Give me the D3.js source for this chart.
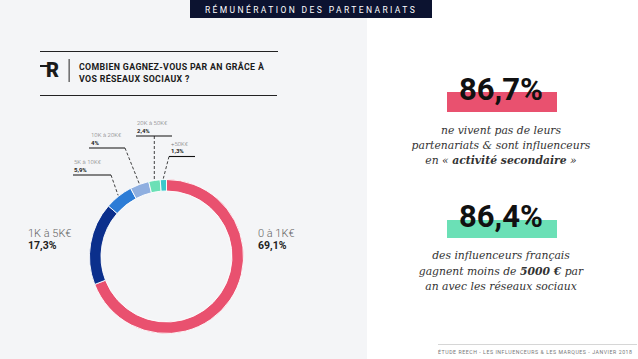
<!DOCTYPE html>
<html><head><meta charset="utf-8">
<script src="https://cdn.jsdelivr.net/npm/d3@7/dist/d3.min.js"></script>
<style>html,body{margin:0;padding:0;background:#fff;}svg{display:block;}
.ser{font-family:"DejaVu Serif", "Liberation Serif", serif;font-style:italic;}</style>
</head><body>
<svg id="c" width="638" height="359"></svg>
<script>
// ---- data ----
const categories = ["0 à 1K€", "1K à 5K€", "5K à 10K€", "10K à 20K€", "20K à 50K€", "+50K€"];
const values = [69.1, 17.3, 5.9, 4, 2.4, 1.3];
const colors = ["#e9516f", "#0b2f8c", "#2c7cd6", "#8fafe0", "#6be0b6", "#3cc8cc"];
const stat1 = 86.7;
const stat2 = 86.4;

const fmt = v => String(v).replace(".", ",") + "%";
const svg = d3.select("#c");

// background panels
svg.append("rect").attr("x", 0).attr("y", 0).attr("width", 367).attr("height", 359).attr("fill", "#f4f5f7");

// title bar
svg.append("rect").attr("x", 190).attr("y", 0).attr("width", 242).attr("height", 18).attr("fill", "#0c1330");
svg.append("text").attr("x", 311).attr("y", 12.5).attr("text-anchor", "middle")
  .attr("font-family", "Roboto").attr("font-size", 8.5).attr("letter-spacing", 2.4)
  .attr("fill", "#fff").text("RÉMUNÉRATION DES PARTENARIATS");

// header block
const hdr = svg.append("g");
hdr.append("line").attr("x1", 40).attr("x2", 278).attr("y1", 51.5).attr("y2", 51.5).attr("stroke", "#222").attr("stroke-width", 1);
hdr.append("line").attr("x1", 40).attr("x2", 277).attr("y1", 95.5).attr("y2", 95.5).attr("stroke", "#222").attr("stroke-width", 1);
hdr.append("text").attr("x", 46).attr("y", 77).attr("font-family", "Roboto").attr("font-weight", 900)
  .attr("font-size", 20).attr("fill", "#1a1a1a").text("R");
hdr.append("rect").attr("x", 40).attr("y", 65).attr("width", 8).attr("height", 2).attr("fill", "#1a1a1a");
hdr.append("rect").attr("x", 68.5).attr("y", 59).attr("width", 1.3).attr("height", 23).attr("fill", "#555");
hdr.append("text").attr("x", 79).attr("y", 69.5).attr("font-family", "Roboto").attr("font-weight", 700)
  .attr("font-size", 8.8).attr("letter-spacing", 0.35).attr("fill", "#1a1a1a").text("COMBIEN GAGNEZ-VOUS PAR AN GRÂCE À");
hdr.append("text").attr("x", 79).attr("y", 81.5).attr("font-family", "Roboto").attr("font-weight", 700)
  .attr("font-size", 8.8).attr("letter-spacing", 0.35).attr("fill", "#1a1a1a").text("VOS RÉSEAUX SOCIAUX ?");

// donut
const cx = 166.5, cy = 256.5, rOut = 77, rIn = 65.5;
const data = categories.map((c, i) => ({ cat: c, value: values[i], color: colors[i] }));
const pie = d3.pie().sort(null).value(d => d.value);
const arcs = pie(data);
const arc = d3.arc().innerRadius(rIn).outerRadius(rOut);
const g = svg.append("g").attr("transform", `translate(${cx},${cy})`);
g.selectAll("path").data(arcs).join("path")
  .attr("d", arc).attr("fill", d => d.data.color).attr("stroke", "#fff").attr("stroke-width", 0.9);

// big labels
const bigLab = [
  { i: 0, x: 258 },
  { i: 1, x: 28 }
];
bigLab.forEach(b => {
  svg.append("text").attr("x", b.x).attr("y", 237).attr("font-family", "Roboto").attr("font-weight", 300)
    .attr("font-size", 11).attr("fill", "#666").text(categories[b.i]);
  svg.append("text").attr("x", b.x).attr("y", 249).attr("font-family", "Roboto").attr("font-weight", 700)
    .attr("font-size", 10.5).attr("fill", "#222").text(fmt(values[b.i]));
});

// small labels with leader lines
const smallLab = [
  { i: 2, x: 74, y: 164, ux1: 73, ux2: 111, sx: 111 },
  { i: 3, x: 91, y: 137, ux1: 89, ux2: 125, sx: 125 },
  { i: 4, x: 137, y: 125, ux1: 136, ux2: 172, sx: null },
  { i: 5, x: 171, y: 145.5, ux1: 169, ux2: 195, sx: 169 }
];
smallLab.forEach(s => {
  const a = arcs[s.i];
  const mid = (a.startAngle + a.endAngle) / 2;
  const ex = cx + 78 * Math.sin(mid), ey = cy - 78 * Math.cos(mid);
  const uy = s.y + 11;
  const sx = s.sx === null ? ex : s.sx;
  svg.append("text").attr("x", s.x).attr("y", s.y).attr("font-family", "Roboto").attr("font-weight", 300)
    .attr("font-size", 6).attr("fill", "#777").text(categories[s.i]);
  svg.append("text").attr("x", s.x).attr("y", s.y + 7.5).attr("font-family", "Roboto").attr("font-weight", 700)
    .attr("font-size", 6).attr("fill", "#222").text(fmt(values[s.i]));
  svg.append("line").attr("x1", s.ux1).attr("x2", s.ux2).attr("y1", uy).attr("y2", uy)
    .attr("stroke", "#111").attr("stroke-width", 1.1);
  svg.append("line").attr("x1", sx).attr("y1", uy).attr("x2", ex).attr("y2", ey)
    .attr("stroke", "#111").attr("stroke-width", 0.8).attr("stroke-dasharray", "3,2");
});

// right side stats
const rx = 501;
function stat(val, rectColor, rectY, rectH, baseY, lines, lineY, step) {
  svg.append("rect").attr("x", 447).attr("y", rectY).attr("width", 110).attr("height", rectH).attr("fill", rectColor);
  svg.append("text").attr("x", rx).attr("y", baseY).attr("text-anchor", "middle").attr("font-family", "Roboto")
    .attr("font-weight", 700).attr("font-size", 31).attr("fill", "#111").text(fmt(val));
  lines.forEach((ln, k) => {
    const t = svg.append("text").attr("class", "ser").attr("x", rx).attr("y", lineY + k * step).attr("text-anchor", "middle")
      .attr("font-size", 10.8).attr("fill", "#333");
    ln.forEach(part => t.append("tspan").attr("font-weight", part.b ? 700 : 400).text(part.t));
  });
}
stat(stat1, "#e9516f", 92, 20, 100,
  [[{ t: "ne vivent pas de leurs" }],
   [{ t: "partenariats & sont influenceurs" }],
   [{ t: "en « " }, { t: "activité secondaire", b: true }, { t: " »" }]], 134, 14.8);
stat(stat2, "#6be0b6", 220, 18, 227,
  [[{ t: "des influenceurs français" }],
   [{ t: "gagnent moins de " }, { t: "5000 €", b: true }, { t: " par" }],
   [{ t: "an avec les réseaux sociaux" }]], 259, 15.5);

// footer
svg.append("line").attr("x1", 438).attr("x2", 637).attr("y1", 344.5).attr("y2", 344.5).attr("stroke", "#bbb").attr("stroke-width", 0.6);
svg.append("text").attr("x", 438).attr("y", 354).attr("font-family", "Roboto").attr("font-size", 5.2)
  .attr("textLength", 194).attr("lengthAdjust", "spacing")
  .attr("fill", "#777").text("ÉTUDE REECH - LES INFLUENCEURS & LES MARQUES - JANVIER 2018");
</script>
</body></html>
